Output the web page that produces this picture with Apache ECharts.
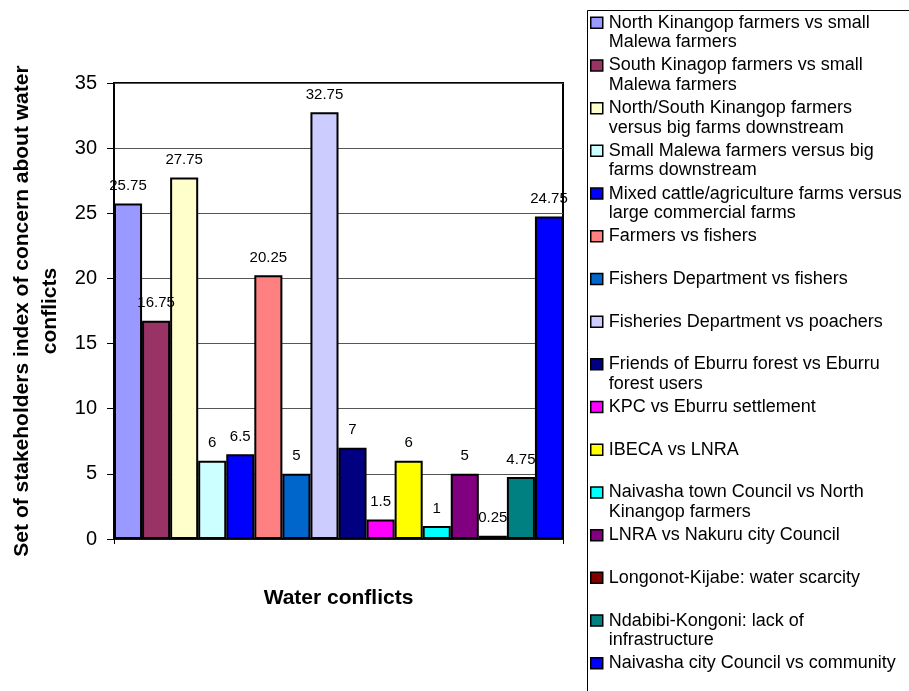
<!DOCTYPE html>
<html>
<head>
<meta charset="utf-8">
<script src="https://cdn.jsdelivr.net/npm/echarts@6/dist/echarts.min.js"></script>
<style>
  html, body { margin: 0; padding: 0; background: #fff; }
  #chart { width: 909px; height: 691px; }
</style>
</head>
<body>
<div id="chart"></div>
<script>
// One category holding sixteen side-by-side conflict bars
const categories = ['Water conflicts'];

// Conflict names as they wrap in the legend
const conflictNames = [
  'North Kinangop farmers vs small\nMalewa farmers',
  'South Kinagop farmers vs small\nMalewa farmers',
  'North/South Kinangop farmers\nversus big farms downstream',
  'Small Malewa farmers versus big\nfarms downstream',
  'Mixed cattle/agriculture farms versus\nlarge commercial farms',
  'Farmers vs fishers',
  'Fishers Department vs fishers',
  'Fisheries Department vs poachers',
  'Friends of Eburru forest vs Eburru\nforest users',
  'KPC vs Eburru settlement',
  'IBECA vs LNRA',
  'Naivasha town Council vs North\nKinangop farmers',
  'LNRA vs Nakuru city Council',
  'Longonot-Kijabe: water scarcity',
  'Ndabibi-Kongoni: lack of\ninfrastructure',
  'Naivasha city Council vs community'
];

// Index of concern for each conflict
const concernIndex = [25.75, 16.75, 27.75, 6, 6.5, 20.25, 5, 32.75, 7, 1.5, 6, 1, 5, 0.25, 4.75, 24.75];

// Value axis ticks
const yTickValues = [0, 5, 10, 15, 20, 25, 30, 35];

const barColors = [
  '#9999FF', '#993366', '#FFFFCC', '#CCFFFF', '#0000FF', '#FF8080', '#0066CC', '#CCCCFF',
  '#000080', '#FF00FF', '#FFFF00', '#00FFFF', '#800080', '#800000', '#008080', '#0000FF'
];

const FONT = '"Liberation Sans", Arial, Helvetica, sans-serif';

const chart = echarts.init(document.getElementById('chart'), null, { renderer: 'canvas' });

const series = conflictNames.map((name, i) => ({
  type: 'bar',
  name: name,
  data: [concernIndex[i]],
  barGap: '0%',
  barCategoryGap: '0%',
  itemStyle: { color: barColors[i], borderColor: '#000', borderWidth: 2 },
  label: {
    show: true,
    position: 'top',
    distance: 10,
    fontSize: 15,
    color: '#000',
    fontFamily: FONT
  },
  emphasis: { disabled: true }
}));

chart.setOption({
  animation: false,
  backgroundColor: '#fff',
  grid: {
    left: 114, top: 83, right: 346, bottom: 152,
    show: true, borderColor: '#000', borderWidth: 2, backgroundColor: 'transparent'
  },
  graphic: [{
    type: 'rect',
    silent: true,
    z: -1,
    shape: { x: 587.5, y: 10.5, width: 400, height: 700 },
    style: { fill: 'none', stroke: '#000', lineWidth: 1 }
  }],
  legend: {
    orient: 'vertical',
    left: 590,
    top: -6.5,
    width: 330,
    height: 1200,
    padding: 0,
    itemGap: -15.8,
    itemWidth: 12,
    itemHeight: 11,
    icon: 'rect',
    selectedMode: false,
    itemStyle: { borderColor: '#000', borderWidth: 1.5 },
    // a blank first line keeps the swatch level with the first line of text
    formatter: name => '\u00a0\n' + name + (name.indexOf('\n') < 0 ? '\n\u00a0' : ''),
    textStyle: { fontSize: 18, lineHeight: 19.5, color: '#000', fontFamily: FONT, padding: [0, 0, 0, 1] },
    data: conflictNames
  },
  xAxis: {
    type: 'category',
    data: categories,
    name: 'Water conflicts',
    nameLocation: 'middle',
    nameGap: 49,
    nameTextStyle: { fontSize: 21, fontWeight: 'bold', color: '#000', fontFamily: FONT },
    axisLine: { lineStyle: { color: '#000', width: 1.5 } },
    axisTick: { show: true, length: 5, lineStyle: { color: '#000', width: 1 } },
    axisLabel: { show: false },
    splitLine: { show: false }
  },
  yAxis: {
    type: 'value',
    min: yTickValues[0],
    max: yTickValues[yTickValues.length - 1],
    interval: yTickValues[1] - yTickValues[0],
    name: 'Set of stakeholders index of concern about water\nconflicts',
    nameLocation: 'middle',
    nameGap: 50,
    nameTextStyle: { fontSize: 21, fontWeight: 'bold', color: '#000', fontFamily: FONT, lineHeight: 28 },
    axisLine: { show: true, lineStyle: { color: '#000', width: 1.5 } },
    axisTick: { show: true, length: 7, lineStyle: { color: '#000', width: 1 } },
    axisLabel: { fontSize: 20, color: '#000', fontFamily: FONT, margin: 17 },
    splitLine: { show: true, lineStyle: { color: '#555', width: 1 } }
  },
  series: series
});
</script>
</body>
</html>
